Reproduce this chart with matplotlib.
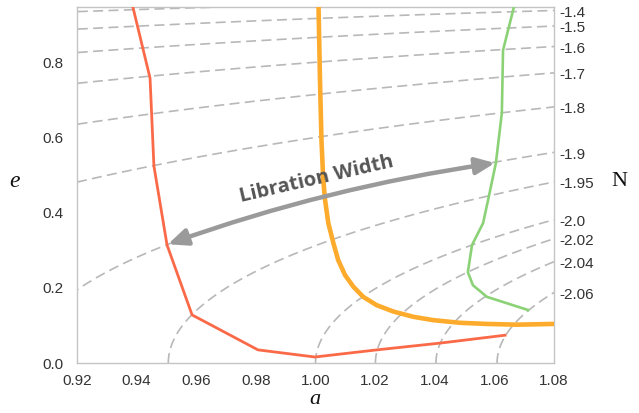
import numpy as np
import matplotlib
matplotlib.use("Agg")
import matplotlib.pyplot as plt

# curvas (a, e)
red_a = [0.9385, 0.9445, 0.9458, 0.9502, 0.9586, 0.9807, 0.9998, 1.0206, 1.0418, 1.0636]
red_e = [0.955, 0.758, 0.524, 0.314, 0.128, 0.035, 0.016, 0.035, 0.053, 0.074]

orange_a = [1.0010, 1.0015, 1.0020, 1.0026, 1.0032, 1.0043, 1.0060, 1.0076, 1.0099,
            1.0127, 1.0160, 1.0205, 1.0261, 1.0328, 1.0395, 1.0485, 1.0574,
            1.0675, 1.0800]
orange_e = [0.955, 0.753, 0.593, 0.487, 0.434, 0.372, 0.319, 0.274, 0.234,
            0.203, 0.176, 0.154, 0.137, 0.123, 0.114, 0.107, 0.104,
            0.102, 0.104]

green_a = [1.0668, 1.0629, 1.0625, 1.0605, 1.0579, 1.0562, 1.0525, 1.0511,
           1.0528, 1.0575, 1.0713]
green_e = [0.955, 0.832, 0.665, 0.532, 0.434, 0.372, 0.314, 0.242,
           0.207, 0.176, 0.141]

# niveles de N
n_levels = [-2.06, -2.04, -2.02, -2.0, -1.95, -1.9, -1.8, -1.7, -1.6, -1.5, -1.4, -1.3]
n_labels = ["-2.06", "-2.04", "-2.02", "-2.0", "-1.95", "-1.9", "-1.8", "-1.7", "-1.6", "-1.5", "-1.4"]

x_ticks = [0.92, 0.94, 0.96, 0.98, 1.00, 1.02, 1.04, 1.06, 1.08]
y_ticks = [0.0, 0.2, 0.4, 0.6, 0.8]


def campo_n(a, e):
    # N = -(L + G), L = sqrt(a), G = sqrt(a(1-e^2))
    return -np.sqrt(a) * (1 + np.sqrt(1 - e ** 2))


fig = plt.figure(figsize=(6.39, 4.13), dpi=100)
ax = fig.add_axes([0.1205, 0.121, 0.7465, 0.862])

A, E = np.meshgrid(np.linspace(0.91, 1.09, 400), np.linspace(0, 0.99, 400))
ax.contour(A, E, campo_n(A, E), levels=n_levels, colors="#b8b8b8",
           linewidths=1.2, linestyles=[(0, (6, 3.2))])

ax.plot(red_a, red_e, color="#fa6a48", lw=2.0, zorder=3)
ax.plot(orange_a, orange_e, color="#fdab2c", lw=3.3, zorder=3, solid_joinstyle="round")
ax.plot(green_a, green_e, color="#8bd276", lw=1.9, zorder=3)

ax.annotate("", xy=(0.9505, 0.316), xytext=(1.0602, 0.532),
            arrowprops=dict(arrowstyle="<|-|>,head_length=1.15,head_width=0.5",
                            color="#9a9a9a", lw=3.2, shrinkA=0, shrinkB=0,
                            connectionstyle="arc3,rad=0.05"), zorder=4)
ax.text(1.0004, 0.489, "Libration Width", rotation=13, ha="center", va="center",
        fontsize=14.5, fontweight="bold", color="#555555", family="Open Sans", zorder=5)

ax.set_xlim(0.92, 1.08)
ax.set_ylim(0, 0.947)
ax.set_xticks(x_ticks)
ax.set_xticklabels([f"{v:.2f}" for v in x_ticks])
ax.set_yticks(y_ticks)
ax.set_yticklabels([f"{v:.1f}" for v in y_ticks])
ax.tick_params(length=0, labelsize=11, labelcolor="#333333", pad=10)
ax.tick_params(axis="x", pad=8)
for lab in ax.get_xticklabels() + ax.get_yticklabels():
    lab.set_family("Liberation Sans")
for s in ax.spines.values():
    s.set_color("#c4c4c4")
    s.set_linewidth(1.0)

# etiquetas de N a la derecha, donde cada contorno corta a = 1.08
for lev, txt in zip(n_levels, n_labels):
    g = -lev / np.sqrt(1.08) - 1
    e_pos = np.sqrt(1 - g ** 2)
    ax.text(1.012, e_pos - 0.006, txt, transform=ax.get_yaxis_transform(), ha="left",
            va="center", fontsize=11, color="#333333", family="Liberation Sans")

fig.text(619 / 639, 1 - 182 / 413, "N", fontsize=16, family="Liberation Serif",
         ha="center", va="center", color="#111111")
fig.text(15 / 639, 1 - 182 / 413, "e", fontsize=17, family="Liberation Serif",
         style="italic", ha="center", va="center", color="#111111")
fig.text(315 / 639, 1 - 400 / 413, "a", fontsize=16, family="Liberation Serif",
         style="italic", ha="center", va="center", color="#111111")

fig.savefig("out.png", dpi=100)
